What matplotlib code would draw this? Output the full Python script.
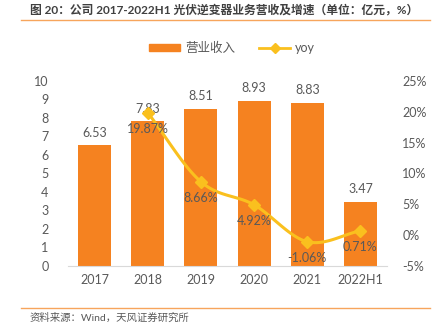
import numpy as np
import matplotlib
matplotlib.use("Agg")
import matplotlib.pyplot as plt
from matplotlib.lines import Line2D
from matplotlib.patches import Patch

plt.rcParams['font.family'] = ['Lato', 'Noto Sans CJK SC', 'DejaVu Sans']

categories = ["2017", "2018", "2019", "2020", "2021", "2022H1"]
revenue = [6.53, 7.83, 8.51, 8.93, 8.83, 3.47]
yoy = [None, 19.87, 8.66, 4.92, -1.06, 0.71]
left_ticks = list(range(0, 11))
right_ticks = [-5, 0, 5, 10, 15, 20, 25]

BAR = "#F58220"
LINE = "#FAC01E"
TXT = "#595959"

W, H = 436, 329
fig = plt.figure(figsize=(W / 100, H / 100), dpi=100)

def fx(px):
    return px / W

def fy(py):
    return 1 - py / H

ax = fig.add_axes([fx(68), fy(266), fx(387 - 68), (266 - 81) / H])
x = np.arange(len(categories))
ax.bar(x, revenue, width=0.62, color=BAR, zorder=2)
ax.set_xlim(-0.5, len(categories) - 0.5)
ax.set_ylim(0, 10)
ax.set_yticks(left_ticks)
ax.set_xticks(x)
ax.set_xticklabels(categories)
for s in ["top", "right", "left"]:
    ax.spines[s].set_visible(False)
ax.spines["bottom"].set_color("#D9D9D9")
ax.tick_params(axis="both", length=0, colors=TXT, labelsize=9)
ax.tick_params(axis="y", pad=14)
ax.tick_params(axis="x", pad=6)
for xi, v in zip(x, revenue):
    ax.text(xi, v + 0.35, f"{v:.2f}", ha="center", va="bottom", color=TXT, fontsize=9)

ax2 = ax.twinx()
ax2.set_ylim(-5, 25)
ax2.set_yticks(right_ticks)
ax2.set_yticklabels([f"{t}%" for t in right_ticks])
for s in ["top", "right", "left", "bottom"]:
    ax2.spines[s].set_visible(False)
ax2.tick_params(axis="y", length=0, colors=TXT, labelsize=9, pad=11)

# smooth line (Catmull-Rom through the data points)
px = np.array([xi for xi, v in zip(x, yoy) if v is not None], dtype=float)
py = np.array([v for v in yoy if v is not None], dtype=float)
P = np.column_stack([px, py])
P_ext = np.vstack([2 * P[0] - P[1], P, 2 * P[-1] - P[-2]])
curve = []
for i in range(1, len(P_ext) - 2):
    p0, p1, p2, p3 = P_ext[i - 1], P_ext[i], P_ext[i + 1], P_ext[i + 2]
    t = np.linspace(0, 1, 30)[:, None]
    c = 0.5 * ((2 * p1) + (-p0 + p2) * t + (2 * p0 - 5 * p1 + 4 * p2 - p3) * t ** 2
               + (-p0 + 3 * p1 - 3 * p2 + p3) * t ** 3)
    curve.append(c)
curve = np.vstack(curve)
ax2.plot(curve[:, 0], curve[:, 1], color=LINE, lw=2.2, zorder=3, clip_on=False)
ax2.plot(px, py, linestyle="none", marker="D", markersize=6, color=LINE, zorder=4)
for xi, v in zip(px, py):
    ax2.text(xi, v - 1.6, f"{v:.2f}%", ha="center", va="top", color=TXT, fontsize=9, zorder=5)

# legend
handles = [Patch(facecolor=BAR, edgecolor=BAR),
           Line2D([0], [0], color=LINE, lw=2, marker="D", markersize=5)]
fig.legend(handles, ["营业收入", "yoy"], loc="center", bbox_to_anchor=(fx(232), fy(48)),
           ncol=2, frameon=False, fontsize=9, labelcolor=TXT, handlelength=2.5,
           handleheight=0.55, columnspacing=1.9, handletextpad=0.4)

# title and source
fig.text(fx(30), fy(10), "图 20：公司 2017-2022H1 光伏逆变器业务营收及增速（单位：亿元，%）",
         ha="left", va="center", fontsize=8.5, fontweight="bold", color="#404040")
fig.add_artist(Line2D([fx(21), fx(430)], [fy(19.5), fy(19.5)], color="#F7A55C", lw=1))
fig.add_artist(Line2D([fx(21), fx(430)], [fy(308), fy(308)], color="#F7A55C", lw=1))
fig.text(fx(30), fy(318), "资料来源：Wind，天风证券研究所", ha="left", va="center",
         fontsize=7.5, color=TXT)

fig.savefig("out.png", dpi=100)
